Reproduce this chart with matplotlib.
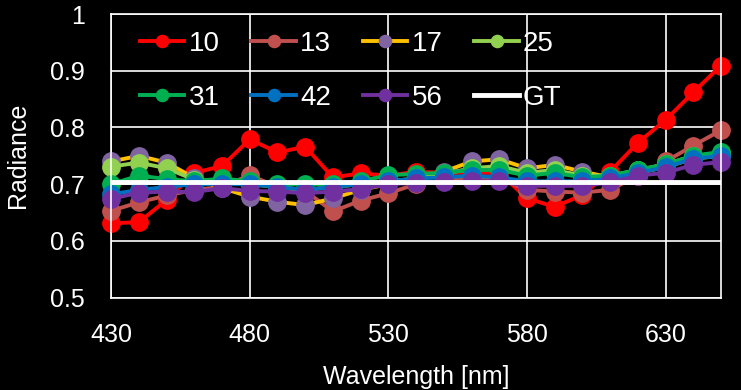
import matplotlib
matplotlib.use("Agg")
import matplotlib.pyplot as plt

# wavelengths [nm]
wavelengths = [430, 440, 450, 460, 470, 480, 490, 500, 510, 520, 530, 540,
               550, 560, 570, 580, 590, 600, 610, 620, 630, 640, 650]

r10 = [0.631, 0.633, 0.672, 0.720, 0.732, 0.779, 0.756, 0.766, 0.712, 0.719, 0.715, 0.722,
       0.720, 0.720, 0.720, 0.675, 0.660, 0.681, 0.722, 0.773, 0.813, 0.862, 0.909]
r13 = [0.653, 0.668, 0.680, 0.690, 0.695, 0.716, 0.695, 0.688, 0.652, 0.671, 0.684, 0.700,
       0.705, 0.712, 0.710, 0.690, 0.687, 0.685, 0.690, 0.715, 0.740, 0.768, 0.795]
r17 = [0.740, 0.750, 0.738, 0.711, 0.693, 0.678, 0.669, 0.663, 0.675, 0.690, 0.700, 0.710,
       0.722, 0.740, 0.744, 0.728, 0.734, 0.722, 0.712, 0.720, 0.730, 0.745, 0.750]
r25 = [0.731, 0.738, 0.728, 0.708, 0.705, 0.700, 0.695, 0.690, 0.695, 0.700, 0.705, 0.710,
       0.718, 0.728, 0.732, 0.720, 0.725, 0.715, 0.715, 0.725, 0.735, 0.750, 0.755]
r31 = [0.700, 0.715, 0.709, 0.705, 0.710, 0.705, 0.700, 0.700, 0.700, 0.705, 0.716, 0.718,
       0.720, 0.725, 0.725, 0.715, 0.720, 0.712, 0.715, 0.725, 0.735, 0.750, 0.757]
r42 = [0.682, 0.690, 0.695, 0.700, 0.700, 0.700, 0.695, 0.690, 0.695, 0.700, 0.705, 0.710,
       0.712, 0.715, 0.712, 0.705, 0.705, 0.705, 0.710, 0.720, 0.730, 0.745, 0.750]
r56 = [0.674, 0.685, 0.687, 0.686, 0.693, 0.688, 0.687, 0.684, 0.687, 0.691, 0.700, 0.702,
       0.703, 0.705, 0.705, 0.697, 0.697, 0.697, 0.703, 0.715, 0.720, 0.734, 0.739]
gt = [0.703] * len(wavelengths)

series_labels = ["10", "13", "17", "25", "31", "42", "56"]
series_values = [r10, r13, r17, r25, r31, r42, r56]
line_colors = ["#FF0000", "#C0504D", "#FFC000", "#92D050", "#00B050", "#0070C0", "#7030A0"]
marker_colors = ["#FF0000", "#C0504D", "#8064A2", "#92D050", "#00B050", "#0070C0", "#7030A0"]

xticks = [430, 480, 530, 580, 630]
yticks = [0.5, 0.6, 0.7, 0.8, 0.9, 1.0]
ytick_labels = ["0.5", "0.6", "0.7", "0.8", "0.9", "1"]

plt.rcParams['font.family'] = ['Liberation Sans', 'DejaVu Sans']

fig = plt.figure(figsize=(7.41, 3.90), dpi=100, facecolor='black')
ax = fig.add_axes([0.150, 0.237, 0.823, 0.727], facecolor='black')

for name, vals, lc, mc in zip(series_labels, series_values, line_colors, marker_colors):
    ax.plot(wavelengths, vals, color=lc, lw=2.8, marker='o', markersize=12.5,
            markerfacecolor=mc, markeredgecolor=mc, label=name, clip_on=False)
ax.plot(wavelengths, gt, color='white', lw=3.5, label='GT')

ax.set_xlim(430, 650)
ax.set_ylim(0.5, 1.0)
ax.set_xticks(xticks)
ax.set_yticks(yticks)
ax.set_yticklabels(ytick_labels)
ax.grid(True, color='white', lw=1.2)
ax.set_axisbelow(True)
for sp in ax.spines.values():
    sp.set_color('white')
    sp.set_linewidth(1.2)
ax.tick_params(colors='white', labelsize=18, length=0)
ax.tick_params(axis='x', pad=18)
ax.tick_params(axis='y', pad=19)
ax.set_xlabel('Wavelength [nm]', color='white', fontsize=18, labelpad=13)
ax.set_ylabel('Radiance', color='white', fontsize=18, labelpad=14)

# legend fills row by row in the reference: reorder for column-major filling
handles, labels = ax.get_legend_handles_labels()
order = [0, 4, 1, 5, 2, 6, 3, 7]
leg = ax.legend([handles[i] for i in order], [labels[i] for i in order],
                ncol=4, frameon=False, fontsize=20, loc='upper left',
                bbox_to_anchor=(126 / 741, 1 - 17 / 390), bbox_transform=fig.transFigure,
                borderpad=0, handlelength=1.6, handletextpad=0.15,
                columnspacing=1.15, labelspacing=1.0, markerscale=0.7)
for t in leg.get_texts():
    t.set_color('white')

fig.savefig('out.png', dpi=100, facecolor='black')
